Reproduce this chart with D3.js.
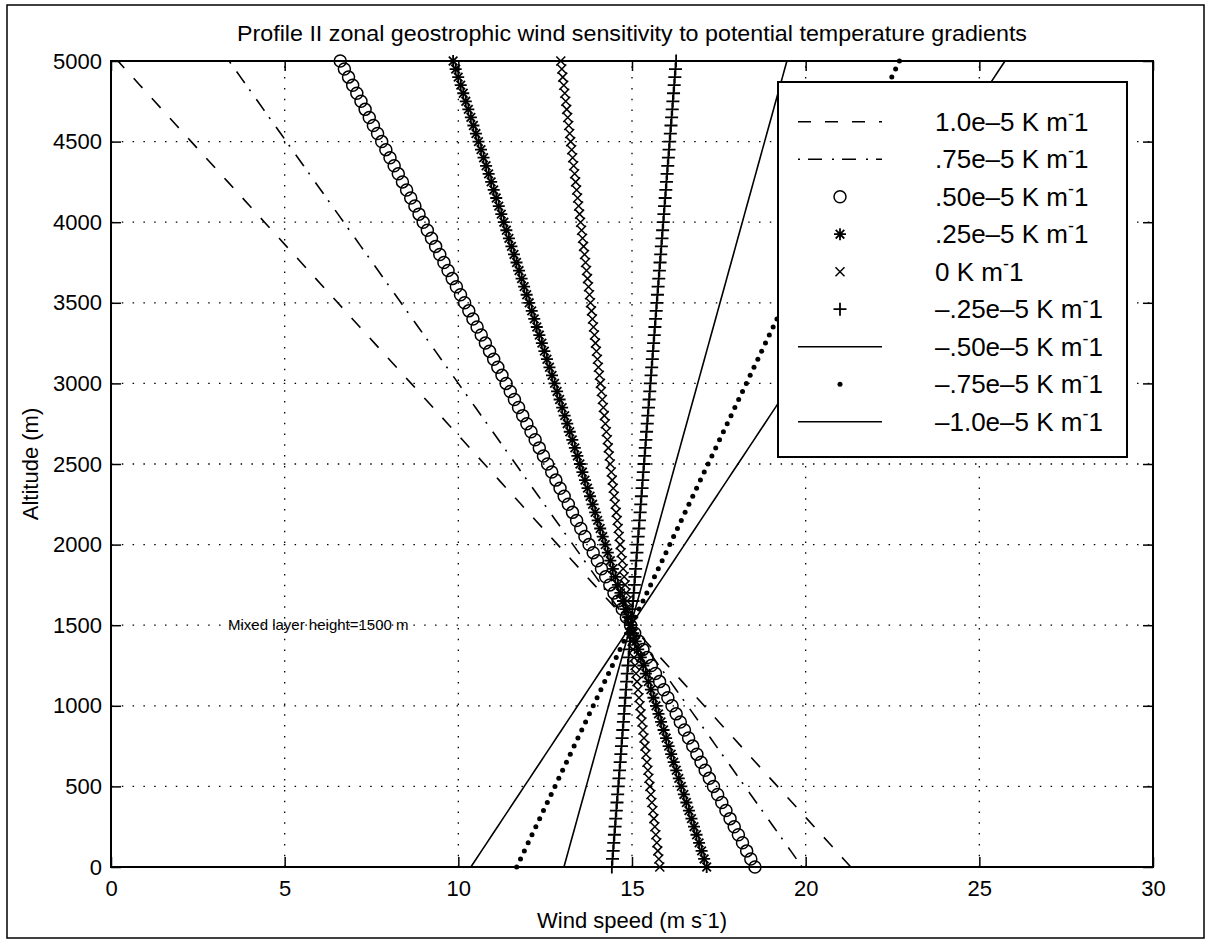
<!DOCTYPE html>
<html><head><meta charset="utf-8">
<script src="https://cdn.jsdelivr.net/npm/d3@7"></script>
<style>
body{margin:0;background:#fff}
svg{display:block}
text{font-family:"Liberation Sans",Arial,Helvetica,sans-serif;fill:#000}
</style>
</head><body>
<svg id="c" width="1206" height="941"></svg>
<script>
// ---- data ----
const windTicks = [0, 5, 10, 15, 20, 25, 30];
const altitudeTicks = [0, 500, 1000, 1500, 2000, 2500, 3000, 3500, 4000, 4500, 5000];
const gradientLabels = ["1.0e–5", ".75e–5", ".50e–5", ".25e–5", "0", "–.25e–5", "–.50e–5", "–.75e–5", "–1.0e–5"];
// zonal wind at the surface and at 5000 m for each gradient (m s-1); each profile is linear in height
const windAtSurface = [21.3, 19.9, 18.54, 17.15, 15.8, 14.42, 13.04, 11.68, 10.36];
const windAt5000m   = [0.2, 3.4, 6.6, 9.85, 12.95, 16.27, 19.46, 22.7, 25.74];
// model output levels (m)
const sampleAltitudes = d3.range(0, 5001, 50);
const seriesStyle = ["dashed", "dashdot", "circle", "star", "cross", "plus", "solid", "dot", "solid"];

// ---- layout ----
const svg = d3.select("#c");
const m = {left: 111, right: 1153, top: 61, bottom: 867};
const x = d3.scaleLinear().domain([0, 30]).range([m.left, m.right]);
const y = d3.scaleLinear().domain([0, 5000]).range([m.bottom, m.top]);

// outer frame
svg.append("rect").attr("x", 7).attr("y", 5).attr("width", 1197).attr("height", 933)
  .attr("fill", "none").attr("stroke", "#000").attr("stroke-width", 1.5);

// title
svg.append("text").attr("x", (m.left + m.right) / 2).attr("y", 33).attr("dy", "0.35em")
  .attr("text-anchor", "middle").style("font-size", "22px")
  .attr("textLength", 790).attr("lengthAdjust", "spacingAndGlyphs")
  .text("Profile II zonal geostrophic wind sensitivity to potential temperature gradients");

// grid
const grid = svg.append("g").attr("stroke", "#000").attr("stroke-width", 1.3).attr("stroke-dasharray", "1.5,9.3");
grid.selectAll(".gx").data(windTicks.slice(1, -1)).join("line")
  .attr("x1", d => x(d)).attr("x2", d => x(d)).attr("y1", y(0)).attr("y2", y(5000));
grid.selectAll(".gy").data(altitudeTicks.slice(1, -1)).join("line")
  .attr("y1", d => y(d)).attr("y2", d => y(d)).attr("x1", x(0)).attr("x2", x(30));

// axes
function styleAxis(g) {
  g.select(".domain").remove();
  g.selectAll(".tick line").attr("stroke", "#000").attr("stroke-width", 1.5);
  g.selectAll(".tick text").style("font-size", "22px").attr("fill", "#000")
    .style("font-family", '"Liberation Sans",Arial,sans-serif');
}
svg.append("g").attr("transform", `translate(0,${m.bottom})`)
  .call(d3.axisBottom(x).tickValues(windTicks).tickSize(-10).tickSizeOuter(0).tickPadding(13).tickFormat(d3.format("d")))
  .call(styleAxis);
svg.append("g").attr("transform", `translate(0,${m.top})`)
  .call(d3.axisTop(x).tickValues(windTicks).tickSize(-10).tickSizeOuter(0).tickFormat(""))
  .call(styleAxis);
svg.append("g").attr("transform", `translate(${m.left},0)`)
  .call(d3.axisLeft(y).tickValues(altitudeTicks).tickSize(-10).tickSizeOuter(0).tickPadding(9).tickFormat(d3.format("d")))
  .call(styleAxis);
svg.append("g").attr("transform", `translate(${m.right},0)`)
  .call(d3.axisRight(y).tickValues(altitudeTicks).tickSize(-10).tickSizeOuter(0).tickFormat(""))
  .call(styleAxis);
svg.append("rect").attr("x", m.left).attr("y", m.top).attr("width", m.right - m.left).attr("height", m.bottom - m.top)
  .attr("fill", "none").attr("stroke", "#000").attr("stroke-width", 2);

// text with a raised short minus before the final "1" (m^-1 style)
function unitText(sel, main, supSize, rise) {
  sel.append("tspan").text(main);
  sel.append("tspan").attr("dy", -rise).style("font-size", supSize + "px").text("-");
  sel.append("tspan").attr("dy", rise).text("1");
}

// axis labels
const xl = svg.append("text").attr("x", (m.left + m.right) / 2).attr("y", 920).attr("dy", "0.35em")
  .attr("text-anchor", "middle").style("font-size", "22px");
unitText(xl, "Wind speed (m s", 16, 9);
xl.append("tspan").text(")");
svg.append("text").attr("transform", `translate(30,${(m.top + m.bottom) / 2}) rotate(-90)`).attr("dy", "0.35em")
  .attr("text-anchor", "middle").style("font-size", "22px").text("Altitude (m)");

// markers
function markerPath(style) {
  switch (style) {
    case "star": { const s = 6, d = 4.3;
      return `M${-s},0H${s}M0,${-s}V${s}M${-d},${-d}L${d},${d}M${-d},${d}L${d},${-d}`; }
    case "cross": { const s = 4.5; return `M${-s},${-s}L${s},${s}M${-s},${s}L${s},${-s}`; }
    case "plus": { const s = 6.5; return `M${-s},0H${s}M0,${-s}V${s}`; }
  }
  return "";
}
function drawMarker(g, style) {
  if (style === "circle") g.append("circle").attr("r", 6).attr("fill", "none").attr("stroke", "#000").attr("stroke-width", 1.5);
  else if (style === "dot") g.append("circle").attr("r", 2.5).attr("fill", "#000");
  else g.append("path").attr("d", markerPath(style)).attr("fill", "none").attr("stroke", "#000")
    .attr("stroke-width", style === "cross" ? 1.5 : 1.8);
}
const dashes = {dashed: "13,14", dashdot: "2,8,14,10", solid: null};

const profile = i => sampleAltitudes.map(z => ({z, u: windAtSurface[i] + (windAt5000m[i] - windAtSurface[i]) * z / 5000}));
const line = d3.line().x(d => x(d.u)).y(d => y(d.z));
const plot = svg.append("g");
gradientLabels.forEach((lab, i) => {
  const st = seriesStyle[i];
  if (st in dashes) {
    plot.append("path").datum(profile(i)).attr("d", line).attr("fill", "none").attr("stroke", "#000")
      .attr("stroke-width", 1.6).attr("stroke-dasharray", dashes[st]);
  } else {
    plot.append("g").selectAll("g").data(profile(i)).join("g")
      .attr("transform", d => `translate(${x(d.u)},${y(d.z)})`)
      .each(function () { drawMarker(d3.select(this), st); });
  }
});

// mixed layer annotation
svg.append("text").attr("x", 228).attr("y", y(1500)).attr("dy", "0.35em").style("font-size", "15px")
  .text("Mixed layer height=1500 m");

// legend
const lg = svg.append("g");
lg.append("rect").attr("x", 778).attr("y", 82).attr("width", 349).attr("height", 375)
  .attr("fill", "#fff").attr("stroke", "#000").attr("stroke-width", 2);
gradientLabels.forEach((lab, i) => {
  const cy = 121.7 + i * 37.5, st = seriesStyle[i];
  if (st in dashes) {
    lg.append("line").attr("x1", 798).attr("x2", 882).attr("y1", cy).attr("y2", cy)
      .attr("stroke", "#000").attr("stroke-width", 1.6).attr("stroke-dasharray", dashes[st]);
  } else {
    drawMarker(lg.append("g").attr("transform", `translate(840,${cy})`), st);
  }
  const t = lg.append("text").attr("x", 935).attr("y", cy).attr("dy", "0.35em").style("font-size", "26px");
  unitText(t, `${lab} K m`, 18, 11);
});
</script>
</body></html>
